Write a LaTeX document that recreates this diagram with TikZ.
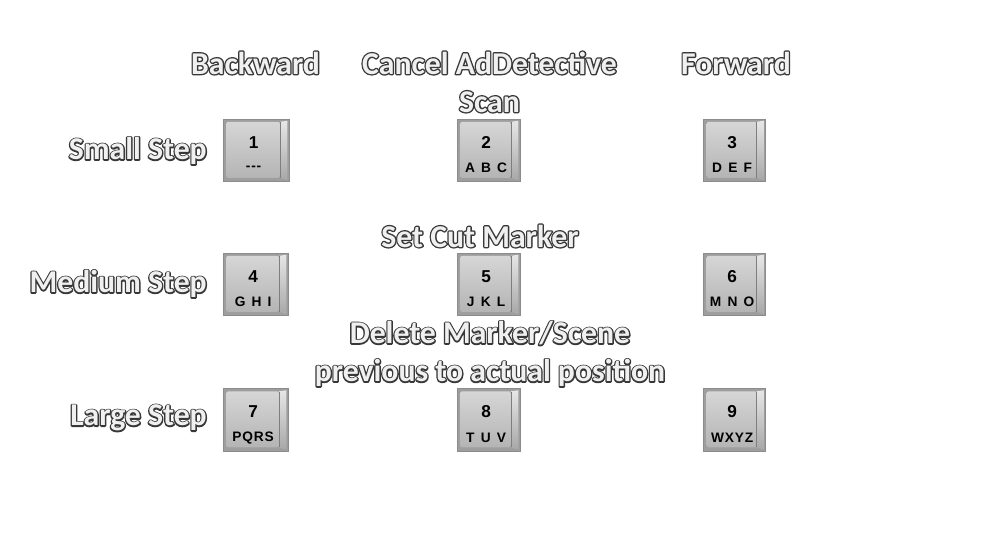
\documentclass[tikz,border=0pt]{standalone}
\usepackage{fontspec}
\setmainfont{Carlito}
\newfontfamily\keyfont[LetterSpace=6]{Liberation Sans}
\definecolor{outl}{HTML}{383838}
\definecolor{fillt}{HTML}{F0F0F0}
\definecolor{keyframe}{HTML}{8C8C8C}
\definecolor{keyouter}{HTML}{9E9E9E}
\definecolor{keytop}{HTML}{D6D6D6}
\definecolor{keybot}{HTML}{B4B4B4}
\definecolor{bevtop}{HTML}{E8E8E8}
\definecolor{bevbot}{HTML}{A6A6A6}
\newcommand{\olt}[1]{\rlap{\textcolor{outl}{\special{pdf:literal direct 1 Tr 2.0 w 1 j}#1\special{pdf:literal direct 0 Tr}}}\textcolor{fillt}{#1}}
\newcommand{\ksp}{\hspace{4.6pt}}
\tikzset{
  lbl/.style={font=\bfseries\fontsize{23.8}{28.5}\selectfont, inner sep=0pt, align=center},
  keybox/.style={rectangle, minimum height=47pt, inner sep=0pt,
    draw=keyframe, line width=0.6pt, fill=keyouter,
    path picture={
      \shade[top color=bevtop, bottom color=bevbot]
        ([shift={(-6.8pt,-2pt)}]path picture bounding box.north east) --
        ([shift={(-1.2pt,-1.2pt)}]path picture bounding box.north east) --
        ([shift={(-1.2pt,1.2pt)}]path picture bounding box.south east) --
        ([shift={(-6.8pt,3pt)}]path picture bounding box.south east) -- cycle;
      \shade[top color=keytop, bottom color=keybot, rounded corners=1.5pt]
        ([shift={(2.4pt,-2pt)}]path picture bounding box.north west) rectangle
        ([shift={(-6.8pt,3pt)}]path picture bounding box.south east);
      \draw[line width=0.4pt, keyframe!90!black]
        ([shift={(-6.8pt,-2.5pt)}]path picture bounding box.north east) --
        ([shift={(-6.8pt,3pt)}]path picture bounding box.south east);
    }},
  keynum/.style={font=\keyfont\bfseries\fontsize{12.9}{14}\selectfont, inner sep=0pt, text=black},
  keylet/.style={font=\keyfont\bfseries\fontsize{10.3}{11}\selectfont, inner sep=0pt, text=black}
}
\begin{document}
\begin{tikzpicture}[x=0.75pt,y=-0.75pt]
\useasboundingbox[fill=white] (0,0) rectangle (986,555);

% column headers
\node[lbl] (hb) at (255.5,63) {\olt{Backward}};
\node[lbl] (hc) at (489.5,82) {\olt{Cancel AdDetective}\\\olt{Scan}};
\node[lbl] (hf) at (736,63) {\olt{Forward}};

% row labels
\node[lbl, anchor=east] (rs) at (207,151) {\olt{Small Step}};
\node[lbl, anchor=east] (rm) at (207,284) {\olt{Medium Step}};
\node[lbl, anchor=east] (rl) at (207,418) {\olt{Large Step}};

% other labels
\node[lbl] (lcut) at (480,236) {\olt{Set Cut Marker}};
\node[lbl] (ldel) at (490,354) {\olt{Delete Marker/Scene}\\\olt{previous to actual position}};

% keys
\foreach \n/\x/\y/\w/\l in {1/256/150.5/49.5/---, 2/488.5/150.5/47.25/A\ksp B\ksp C, 3/734.5/150.5/46.5/D\ksp E\ksp F,
                         4/255.5/284.5/48.75/G\ksp H\ksp I, 5/488.5/284.5/47.25/J\ksp K\ksp L, 6/734.5/284.5/46.5/M\ksp N\ksp O,
                         7/255.5/420/48.75/PQRS, 8/488.5/420/47.25/T\ksp U\ksp V, 9/734.5/420/46.5/WXYZ}{
  \node[keybox, minimum width=\w pt] (k\n) at (\x,\y) {};
  \node[keynum] (k\n num) at ([shift={(-1.8pt,6.2pt)}]k\n.center) {\n};
  \node[keylet] (k\n let) at ([shift={(-1.8pt,-13.2pt)}]k\n.center) {\l};
}
\end{tikzpicture}
\end{document}
